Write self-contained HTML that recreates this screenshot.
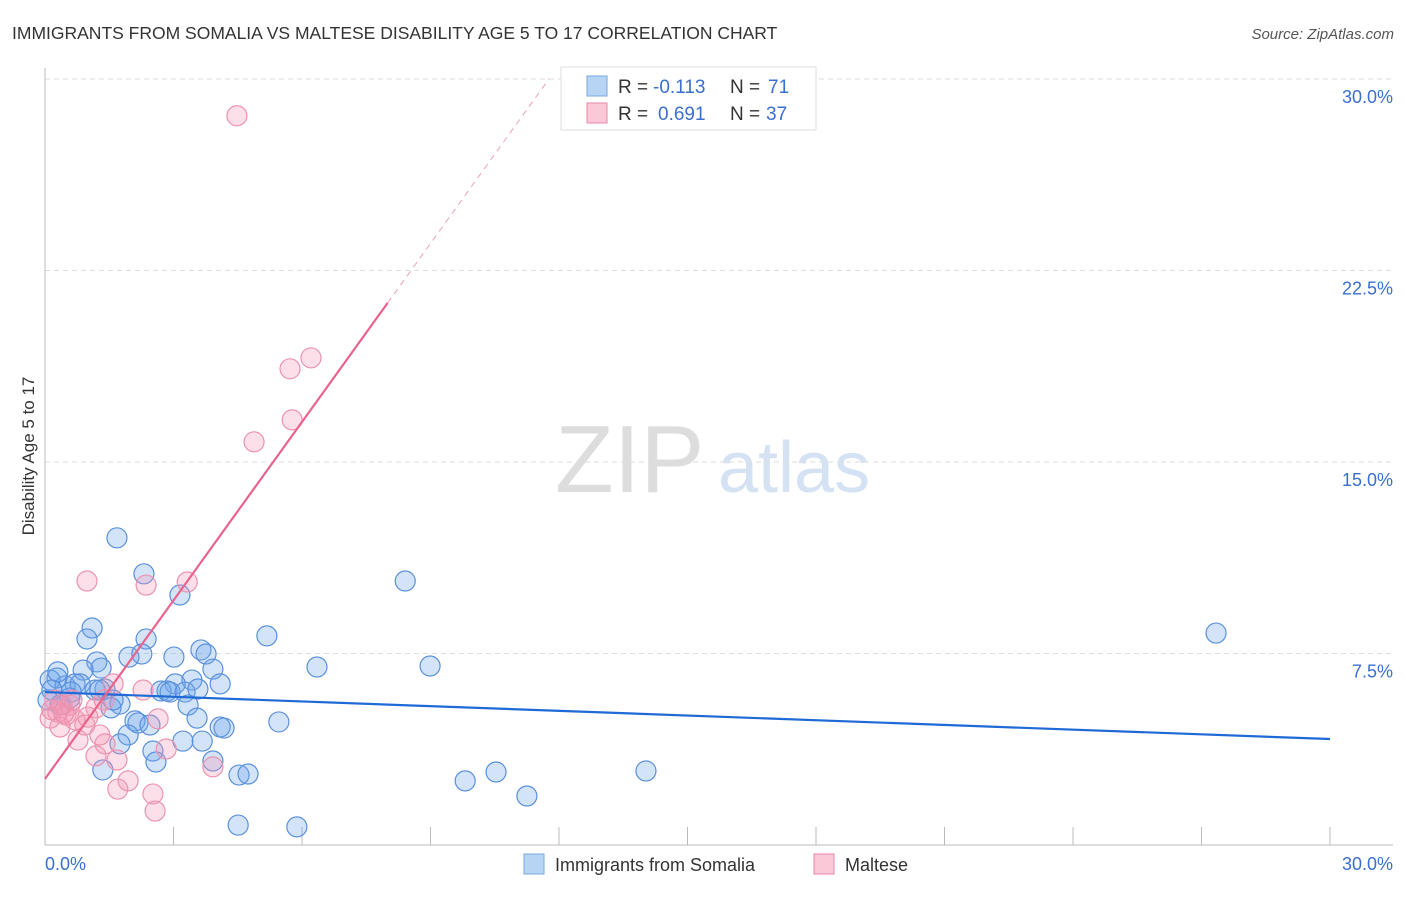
<!DOCTYPE html>
<html><head><meta charset="utf-8"><style>
body{margin:0;background:#fff;font-family:"Liberation Sans",sans-serif;}
svg text{font-family:"Liberation Sans",sans-serif;}
</style></head><body>
<svg id="chart" width="1406" height="892" xmlns="http://www.w3.org/2000/svg">
<text x="12" y="39" font-size="17.5" fill="#333">IMMIGRANTS FROM SOMALIA VS MALTESE DISABILITY AGE 5 TO 17 CORRELATION CHART</text>
<text x="1394" y="39" font-size="15" fill="#555" text-anchor="end" font-style="italic">Source: ZipAtlas.com</text>
<g>
<text x="555" y="492" font-size="96" fill="#ddd" font-family="Liberation Serif, serif">ZIP</text>
<text x="718" y="492" font-size="72" fill="#d4e2f4">atlas</text>
</g>
<g id="grid"></g>
<g id="axes"></g>
<g id="points"></g>
<g id="trends"></g>
<g>
<rect x="561" y="67" width="255" height="63" fill="#fff" stroke="#ddd"/>
<rect x="587" y="76" width="20" height="20" fill="#b8d4f5" stroke="#7aa7e0"/>
<text x="618" y="93" font-size="19" fill="#333">R = </text><text x="653" y="93" font-size="19" fill="#3a6fd0">-0.113</text>
<text x="730" y="93" font-size="19" fill="#333">N = </text><text x="768" y="93" font-size="19" fill="#3a6fd0">71</text>
<rect x="587" y="103" width="20" height="20" fill="#fac8d6" stroke="#e88aa8"/>
<text x="618" y="120" font-size="19" fill="#333">R = </text><text x="658" y="120" font-size="19" fill="#3a6fd0">0.691</text>
<text x="730" y="120" font-size="19" fill="#333">N = </text><text x="766" y="120" font-size="19" fill="#3a6fd0">37</text>
</g>
<g>
<rect x="524" y="854" width="20" height="20" fill="#b8d4f5" stroke="#7aa7e0"/>
<text x="555" y="871" font-size="18" fill="#333">Immigrants from Somalia</text>
<rect x="814" y="854" width="20" height="20" fill="#fac8d6" stroke="#e88aa8"/>
<text x="845" y="871" font-size="18" fill="#333">Maltese</text>
</g>
<text transform="translate(34,456) rotate(-90)" font-size="17" fill="#333" text-anchor="middle">Disability Age 5 to 17</text>
</svg>
<script>
const yTicks=[7.5,15,22.5,30];
const yTickLabels=["7.5%","15.0%","22.5%","30.0%"];
const xTicks=[3,6,9,12,15,18,21,24,27,30];
const xEndLabels=["0.0%","30.0%"];
const somaliaX=[1.68,2.31,3.15,8.41,27.34,1.10,0.98,2.36,5.18,1.96,2.26,3.01,3.64,3.76,1.21,1.31,0.89,0.28,0.12,6.35,8.99,3.92,3.43,4.09,3.04,0.47,0.70,0.82,0.16,0.61,1.40,2.71,2.85,2.92,3.27,3.57,1.75,1.54,3.34,3.55,2.10,2.17,2.45,5.46,4.09,4.18,1.94,3.22,3.67,1.75,2.52,2.59,3.92,1.35,4.53,4.74,9.81,10.53,14.03,11.25,4.51,5.88,0.07,0.35,1.17,1.59,0.30,1.28,0.58];
const somaliaY=[12.03,10.62,9.79,10.34,8.30,8.50,8.07,8.07,8.19,7.36,7.48,7.36,7.64,7.48,7.17,6.93,6.85,6.54,6.46,6.97,7.01,6.89,6.46,6.31,6.31,6.23,6.31,6.31,6.07,5.99,6.11,6.03,6.03,5.99,5.99,6.11,5.52,5.37,5.48,4.97,4.86,4.78,4.70,4.82,4.62,4.58,4.31,4.07,4.07,3.96,3.68,3.25,3.29,2.94,2.74,2.78,2.51,2.86,2.90,1.92,0.78,0.71,5.68,5.48,6.07,5.68,6.78,6.07,5.76];
const malteseX=[4.48,6.21,5.72,5.77,4.88,0.98,2.36,3.32,1.59,2.29,1.38,0.40,0.58,1.19,0.30,0.49,0.12,2.64,0.16,0.70,0.35,1.28,0.77,1.40,2.83,1.19,1.68,1.94,1.70,2.52,2.57,3.92,1.00,0.44,0.63,0.23,0.93];
const malteseY=[28.56,19.08,18.65,16.65,15.79,10.34,10.18,10.30,6.31,6.07,5.68,5.48,5.48,5.37,5.21,5.09,4.97,4.94,5.29,4.90,4.62,4.31,4.11,3.96,3.76,3.49,3.33,2.51,2.19,2.00,1.33,3.06,5.01,5.17,5.68,5.68,4.70];
const somaliaTrend=[5.99,4.15];
const malteseTrend=[2.59,2.33];
const malteseSolidEnd=8.0;

const NS="http://www.w3.org/2000/svg";
const X0=45,X1=1330,Y0=845,Ytop=79;
const sx=v=>X0+v/30*(X1-X0);
const sy=v=>Y0-v/30*(Y0-Ytop);
function mk(tag,attrs,parent){const e=document.createElementNS(NS,tag);for(const k in attrs)e.setAttribute(k,attrs[k]);document.getElementById(parent).appendChild(e);return e;}
yTicks.forEach((t,i)=>{
  const l=mk('line',{x1:X0,x2:1393,y1:sy(t),y2:sy(t),stroke:'#ddd','stroke-dasharray':'5,4'},'grid');
  
  
  const tx=mk('text',{x:1393,y:sy(t)+24,'font-size':18,fill:'#3a6fd0','text-anchor':'end'},'grid');
  tx.textContent=yTickLabels[i];
  
  
});
let a=mk('line',{x1:X0,x2:X0,y1:68,y2:Y0,stroke:'#bbb'},'axes');


a=mk('line',{x1:X0,x2:1393,y1:Y0,y2:Y0,stroke:'#bbb'},'axes');


xTicks.forEach(t=>{
  const l=mk('line',{x1:sx(t),x2:sx(t),y1:827,y2:Y0,stroke:'#bbb'},'axes');
  
  
});
let t0=mk('text',{x:45,y:870,'font-size':18,fill:'#3a6fd0'},'axes');t0.textContent=xEndLabels[0];


let t1=mk('text',{x:1393,y:870,'font-size':18,fill:'#3a6fd0','text-anchor':'end'},'axes');t1.textContent=xEndLabels[1];


somaliaX.forEach((v,i)=>{
  const c=mk('circle',{cx:sx(v),cy:sy(somaliaY[i]),r:10,fill:'rgba(110,165,235,0.3)',stroke:'#5a90dc','stroke-width':1.2},'points');
  
  
});
malteseX.forEach((v,i)=>{
  const c=mk('circle',{cx:sx(v),cy:sy(malteseY[i]),r:10,fill:'rgba(245,150,180,0.3)',stroke:'#eb93ae','stroke-width':1.2},'points');
  
  
});
let tl=mk('line',{x1:sx(0),y1:sy(somaliaTrend[0]),x2:sx(30),y2:sy(somaliaTrend[1]),stroke:'#1f6ad6','stroke-width':2.2},'trends');


const mEndDash=(30-malteseTrend[0])/malteseTrend[1];
tl=mk('line',{x1:sx(0),y1:sy(malteseTrend[0]),x2:sx(malteseSolidEnd),y2:sy(malteseTrend[0]+malteseTrend[1]*malteseSolidEnd),stroke:'#e8648c','stroke-width':2.2},'trends');


tl=mk('line',{x1:sx(malteseSolidEnd),y1:sy(malteseTrend[0]+malteseTrend[1]*malteseSolidEnd),x2:sx(mEndDash),y2:sy(30),stroke:'#eaa0b6','stroke-width':1,'stroke-dasharray':'6,5'},'trends');


</script>
</body></html>
